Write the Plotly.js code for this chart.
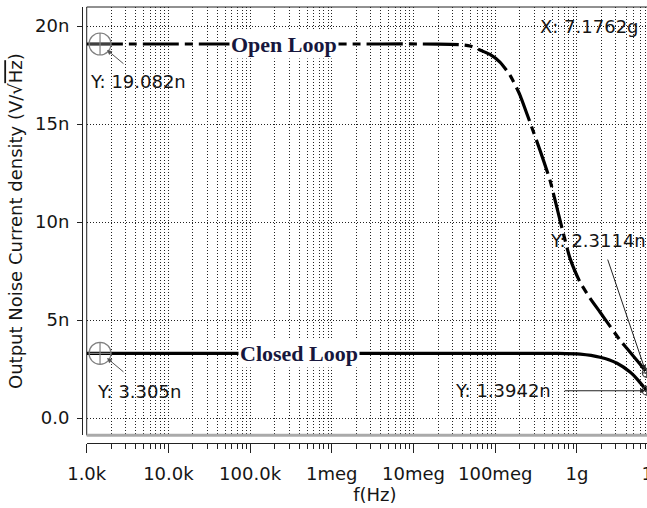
<!DOCTYPE html>
<html>
<head>
<meta charset="utf-8">
<script src="https://cdn.plot.ly/plotly-3.0.1.min.js"></script>
<style>
html,body{margin:0;padding:0;overflow:hidden;background:#fff;}
#chart{width:680px;height:508px;}
</style>
</head>
<body>
<div id="chart"></div>
<script>
// ---- data (frequency in Hz, noise in nV/sqrt(Hz)) ----
const openFreq  = [1e3, 1e6, 2e7, 3.71e7, 4.91e7, 6.51e7, 8.63e7, 1.143e8, 1.517e8, 2.01e8, 2.66e8, 3.53e8, 4.68e8, 6.21e8, 8.22e8, 1.09e9, 1.445e9, 1.915e9, 2.54e9, 3.365e9, 4.46e9, 5.92e9, 7.1762e9];
const openNoise = [19.082, 19.082, 19.08, 19.05, 18.98, 18.78, 18.55, 18.16, 17.5, 16.48, 15.10, 13.67, 12.14, 10.1, 8.16, 6.94, 6.12, 5.41, 4.69, 3.98, 3.37, 2.76, 2.3114];
const closedFreq  = [1e3, 1e8, 6e8, 1.1e9, 1.92e9, 3.1e9, 4.47e9, 5.6e9, 7.1762e9];
const closedNoise = [3.305, 3.305, 3.30, 3.26, 3.10, 2.8, 2.35, 1.94, 1.3942];

const startMarkFreq = [1456, 1456];
const startMarkVal  = [19.082, 3.305];
const endMarkFreq   = [7.1762e9, 7.1762e9];
const endMarkVal    = [2.3114, 1.3942];

const xTickVals = [1e3, 1e4, 1e5, 1e6, 1e7, 1e8, 1e9, 1e10];
const xTickText = ['1.0k', '10.0k', '100.0k', '1meg', '10meg', '100meg', '1g', '10g'];
const yTickVals = [0, 5, 10, 15, 20];
const yTickText = ['0.0', '5n', '10n', '15n', '20n'];

const seriesNames = ['Open Loop', 'Closed Loop'];
const markLabels = ['Y: 19.082n', 'Y: 3.305n', 'Y: 2.3114n', 'Y: 1.3942n', 'X: 7.1762g'];

const sans = 'DejaVu Sans, Arial, sans-serif';
const serif = 'Liberation Serif, Times New Roman, serif';
const txt = '#151515';
const gridDash = '1px,2px';
const lg = v => Math.log10(v);

const traces = [
  {x: openFreq, y: openNoise, mode: 'lines', name: seriesNames[0],
   line: {color: '#000', width: 3.2, dash: '36px,6px,8px,6px', shape: 'spline', smoothing: 0.5}},
  {x: closedFreq, y: closedNoise, mode: 'lines', name: seriesNames[1],
   line: {color: '#000', width: 3.2, shape: 'spline', smoothing: 0.6}},
  {x: startMarkFreq, y: startMarkVal, mode: 'markers',
   marker: {symbol: 'circle-cross-open', size: 22, color: '#808080', line: {width: 1.2, color: '#808080'}}},
  {x: endMarkFreq, y: endMarkVal, mode: 'markers', cliponaxis: false,
   marker: {symbol: 'circle-cross-open', size: 9, color: '#444', line: {width: 1.2, color: '#444'}}}
];

const annotations = [
  {x: 5.415, y: openNoise[0], text: '<b>' + seriesNames[0] + '</b>', showarrow: false,
   font: {family: serif, size: 22, color: '#17173d'}, bgcolor: '#fff', borderpad: 1},
  {x: 5.599, y: closedNoise[0], text: '<b>' + seriesNames[1] + '</b>', showarrow: false,
   font: {family: serif, size: 22, color: '#17173d'}, bgcolor: '#fff', borderpad: 1},
  {x: 3.02, y: 17.19, text: markLabels[0], showarrow: false, xanchor: 'left',
   font: {family: sans, size: 18, color: txt}},
  {x: 3.10, y: 1.38, text: markLabels[1], showarrow: false, xanchor: 'left',
   font: {family: sans, size: 18, color: txt}},
  {x: 8.646, y: 9.08, text: markLabels[2], showarrow: false, xanchor: 'left',
   font: {family: sans, size: 18, color: txt}},
  {x: 7.48, y: 1.43, text: markLabels[3], showarrow: false, xanchor: 'left',
   font: {family: sans, size: 18, color: txt}},
  {x: 8.525, y: 20.0, text: markLabels[4], showarrow: false, xanchor: 'left',
   font: {family: sans, size: 18, color: txt}},
  // arrows
  {x: 3.248, y: 18.78, ax: 18, ay: 15, text: '', showarrow: true, arrowhead: 2, arrowsize: 1, arrowwidth: 1, arrowcolor: '#555'},
  {x: 3.248, y: 3.06, ax: 18, ay: 15, text: '', showarrow: true, arrowhead: 2, arrowsize: 1, arrowwidth: 1, arrowcolor: '#555'},
  {x: lg(endMarkFreq[0]) - 0.02, y: endMarkVal[1], ax: -82, ay: 0, text: '', showarrow: true, arrowhead: 2, arrowsize: 1, arrowwidth: 1, arrowcolor: '#222'},
  {x: lg(endMarkFreq[0]) - 0.02, y: 2.45, ax: -38, ay: -112, text: '', showarrow: true, arrowhead: 2, arrowsize: 1, arrowwidth: 1, arrowcolor: '#222'}
];

const layout = {
  width: 680, height: 508,
  margin: {l: 82, r: 17, t: 7, b: 65},
  paper_bgcolor: '#fff', plot_bgcolor: '#fff',
  showlegend: false,
  font: {family: sans, size: 18, color: txt},
  xaxis: {
    type: 'log', domain: [0.0081, 1], range: [3, 10.054],
    anchor: 'free', position: 0,
    showline: true, linecolor: '#222', linewidth: 1,
    ticks: 'outside', ticklen: 9, tickcolor: '#222', tickwidth: 1,
    tickmode: 'array', tickvals: xTickVals, ticktext: xTickText,
    ticklabelstandoff: 5,
    tickfont: {family: sans, size: 18, color: txt},
    showgrid: true, gridcolor: '#222', griddash: gridDash, gridwidth: 1,
    minor: {dtick: 'D1', ticks: 'outside', ticklen: 5, tickcolor: '#222', tickwidth: 1,
            showgrid: true, gridcolor: '#222', griddash: gridDash, gridwidth: 1},
    zeroline: false,
    title: {text: 'f(Hz)', font: {family: sans, size: 18, color: txt}, standoff: 2}
  },
  yaxis: {
    domain: [0.018, 1], range: [-0.87, 20.97],
    anchor: 'free', position: 0,
    showline: true, linecolor: '#222', linewidth: 1,
    ticks: 'outside', ticklen: 5, tickcolor: '#222', tickwidth: 1,
    tickmode: 'array', tickvals: yTickVals, ticktext: yTickText,
    ticklabelstandoff: 4,
    tickfont: {family: sans, size: 18, color: txt},
    showgrid: true, gridcolor: '#222', griddash: gridDash, gridwidth: 1,
    zeroline: false,
    title: {text: 'Output Noise Current density (V/√<span style="text-decoration:overline">Hz</span>)',
            font: {family: sans, size: 18, color: txt}, standoff: 6}
  },
  shapes: [
    {type: 'rect', xref: 'x domain', yref: 'y domain', x0: 0, x1: 1, y0: 0, y1: 1,
     line: {color: '#222', width: 1}, layer: 'above'},
    {type: 'line', xref: 'x domain', yref: 'y domain', x0: 0, x1: 1, y0: 0, y1: 0,
     line: {color: '#aaa', width: 3}, layer: 'above'}
  ],
  annotations: annotations
};

Plotly.newPlot('chart', traces, layout, {displayModeBar: false, staticPlot: true});
</script>
</body>
</html>
